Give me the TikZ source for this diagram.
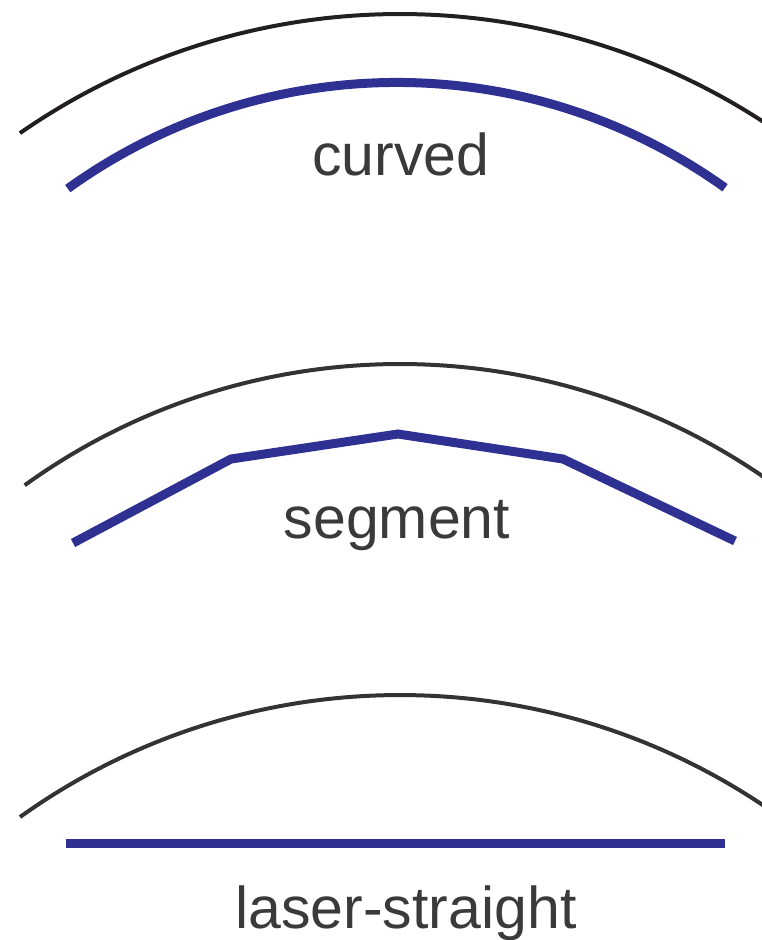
\documentclass[tikz,border=0pt]{standalone}
\usepackage{fontspec}
\setmainfont{Liberation Sans}
\definecolor{lensblue}{HTML}{2E3192}
\definecolor{arcdark}{HTML}{231F20}
\definecolor{arcgray}{HTML}{333336}
\definecolor{txtgray}{HTML}{3A3A3C}
\begin{document}
\begin{tikzpicture}[x=1pt,y=-1pt,
  outer/.style={line width=4pt,draw=arcgray},
  inner/.style={line width=9pt,draw=lensblue},
  lbl/.style={text=txtgray,font=\fontsize{59}{70}\selectfont,anchor=base,inner sep=0pt}]
\useasboundingbox (0,0) rectangle (762,940);
\clip (0,0) rectangle (762,940);
% curved
\coordinate (c1) at (400,680);
\draw[outer,draw=arcdark] ([shift={(-124.8:666)}]c1) arc[start angle=-124.8,end angle=-50,radius=666];
\coordinate (c2) at (397,646);
\draw[inner] ([shift={(-125.75:563.6)}]c2) arc[start angle=-125.75,end angle=-54.4,radius=563.6];
\node[lbl] (curved) at (401,175) {curved};
% segment
\coordinate (c3) at (400,1005.6);
\draw[outer] ([shift={(-125.8:641.6)}]c3) arc[start angle=-125.8,end angle=-50,radius=641.6];
\coordinate (p1) at (73,543);
\coordinate (p2) at (231,459);
\coordinate (p3) at (398,434);
\coordinate (p4) at (563,459);
\coordinate (p5) at (735,541);
\draw[inner] (p1) -- (p2) -- (p3) -- (p4) -- (p5);
\node[lbl] (segment) at (397,538) {segment};
% laser-straight
\coordinate (c4) at (400,1347.8);
\draw[outer] ([shift={(-125.6:652.8)}]c4) arc[start angle=-125.6,end angle=-50,radius=652.8];
\coordinate (s1) at (66,843);
\coordinate (s2) at (725,843);
\draw[inner] (s1) -- (s2);
\node[lbl] (laser) at (406,928) {laser-straight};
\end{tikzpicture}
\end{document}
